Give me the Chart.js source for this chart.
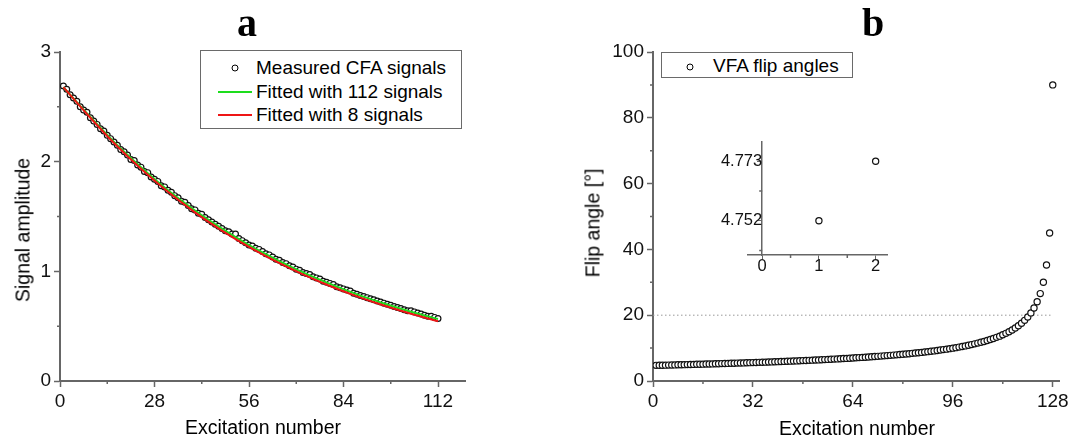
<!DOCTYPE html>
<html>
<head>
<meta charset="utf-8">
<script src="https://cdn.jsdelivr.net/npm/chart.js@4.4.1/dist/chart.umd.min.js"></script>
<style>
  body { margin: 0; width: 1083px; height: 443px; position: relative; background: #fff; overflow: hidden;
         font-family: "Liberation Sans", Arial, sans-serif; color: #000; }
  canvas { position: absolute; top: 0; }
  .lbl { position: absolute; white-space: nowrap; transform: translate(-50%, -50%); font-size: 19.5px; }
  .panel { position: absolute; font-family: "Liberation Serif", "Times New Roman", serif; font-weight: bold;
           font-size: 40px; transform: translate(-50%, -50%); }
  .legend { position: absolute; border: 1px solid #6a6a6a; box-sizing: border-box; background: #fff; }
  .row { position: absolute; font-size: 19px; white-space: nowrap; transform: translateY(-50%); }
  .dot { position: absolute; width: 5px; height: 5px; border: 1.2px solid #000; border-radius: 50%; transform: translate(-50%, -50%); }
  .seg { position: absolute; height: 2px; transform: translateY(-50%); }
</style>
</head>
<body>
<canvas id="chartA" width="540" height="443" style="left:0"></canvas>
<canvas id="chartB" width="543" height="443" style="left:540px"></canvas>
<canvas id="chartInset" width="220" height="160" style="left:690px; top:130px"></canvas>

<div class="panel" style="left:247px; top:22px">a</div>
<div class="panel" style="left:873px; top:22px">b</div>

<div class="lbl" style="left:263px; top:427px">Excitation number</div>
<div class="lbl" style="left:23px; top:230px; transform: translate(-50%, -50%) rotate(-90deg)">Signal amplitude</div>
<div class="lbl" style="left:857px; top:428px">Excitation number</div>
<div class="lbl" style="left:593px; top:223px; transform: translate(-50%, -50%) rotate(-90deg)">Flip angle [°]</div>

<div class="legend" style="left:200px; top:50px; width:262px; height:79px">
  <div class="dot" style="left:34px; top:17px"></div>
  <div class="row" style="left:55px; top:17px">Measured CFA signals</div>
  <div class="seg" style="left:17px; top:41px; width:34px; background:#1ddd1d"></div>
  <div class="row" style="left:55px; top:41px">Fitted with 112 signals</div>
  <div class="seg" style="left:17px; top:64px; width:34px; background:#ee1515"></div>
  <div class="row" style="left:55px; top:64px">Fitted with 8 signals</div>
</div>

<div class="legend" style="left:661px; top:52px; width:192px; height:26px">
  <div class="dot" style="left:28px; top:14px"></div>
  <div class="row" style="left:51px; top:13px">VFA flip angles</div>
</div>

<script>
// panel a: measured CFA signal amplitudes, excitation 1..112
const measuredCFA = [
  2.69, 2.66, 2.61, 2.58, 2.55, 2.50, 2.47, 2.45, 2.40, 2.37,
  2.34, 2.30, 2.28, 2.24, 2.21, 2.18, 2.15, 2.11, 2.09, 2.06,
  2.02, 2.01, 1.97, 1.95, 1.91, 1.90, 1.86, 1.84, 1.82, 1.78,
  1.77, 1.74, 1.72, 1.69, 1.67, 1.64, 1.63, 1.60, 1.57, 1.56,
  1.53, 1.52, 1.49, 1.47, 1.45, 1.43, 1.41, 1.39, 1.37, 1.36,
  1.34, 1.34, 1.30, 1.28, 1.26, 1.24, 1.23, 1.21, 1.20, 1.18,
  1.16, 1.15, 1.13, 1.11, 1.10, 1.08, 1.07, 1.05, 1.04, 1.02,
  1.01, 0.99, 0.98, 0.97, 0.95, 0.94, 0.93, 0.91, 0.90, 0.89,
  0.88, 0.86, 0.85, 0.84, 0.83, 0.82, 0.80, 0.79, 0.78, 0.77,
  0.76, 0.75, 0.74, 0.73, 0.72, 0.71, 0.70, 0.69, 0.68, 0.67,
  0.66, 0.65, 0.64, 0.64, 0.63, 0.62, 0.61, 0.60, 0.59, 0.59,
  0.58, 0.57
];
const cfaExcitations = Array.from({ length: measuredCFA.length }, (_, i) => i + 1);

// fitted curves, read at a few excitations
const fitExcitations = [1, 8, 16, 24, 32, 40, 48, 56, 64, 72, 80, 88, 96, 104, 112];
const fit112 = [2.68, 2.44, 2.18, 1.95, 1.74, 1.555, 1.39, 1.24, 1.11, 0.99, 0.885, 0.79, 0.707, 0.632, 0.565];
const fit8   = [2.68, 2.435, 2.17, 1.935, 1.725, 1.538, 1.372, 1.222, 1.09, 0.972, 0.866, 0.772, 0.688, 0.613, 0.545];

// panel b: VFA flip angles (degrees), excitation 1..128
const vfaAngles = [
  4.752, 4.773, 4.80, 4.82, 4.84, 4.87, 4.89, 4.92, 4.94, 4.97,
  4.99, 5.02, 5.04, 5.07, 5.10, 5.12, 5.15, 5.18, 5.20, 5.23,
  5.26, 5.29, 5.32, 5.35, 5.38, 5.41, 5.44, 5.47, 5.50, 5.53,
  5.57, 5.60, 5.63, 5.67, 5.70, 5.73, 5.77, 5.81, 5.84, 5.88,
  5.92, 5.95, 5.99, 6.03, 6.07, 6.11, 6.15, 6.20, 6.24, 6.28,
  6.33, 6.37, 6.42, 6.47, 6.51, 6.56, 6.61, 6.66, 6.71, 6.77,
  6.82, 6.87, 6.93, 6.99, 7.05, 7.11, 7.17, 7.23, 7.30, 7.36,
  7.43, 7.50, 7.57, 7.64, 7.72, 7.79, 7.87, 7.95, 8.04, 8.12,
  8.21, 8.30, 8.40, 8.49, 8.60, 8.70, 8.81, 8.92, 9.03, 9.15,
  9.28, 9.41, 9.54, 9.68, 9.83, 9.98, 10.14, 10.31, 10.49, 10.67,
  10.86, 11.07, 11.29, 11.52, 11.76, 12.02, 12.30, 12.60, 12.92, 13.26,
  13.63, 14.04, 14.48, 14.96, 15.50, 16.10, 16.78, 17.55, 18.43, 19.47,
  20.70, 22.21, 24.09, 26.57, 30.00, 35.26, 45.00, 90.00
];
const vfaExcitations = Array.from({ length: vfaAngles.length }, (_, i) => i + 1);
const thresholdAngle = 20;

// inset: first two flip angles
const insetExcitations = [1, 2];
const insetAngles = [4.752, 4.773];

// tick values
const aXTicks = [0, 28, 56, 84, 112], aXMinor = [14, 42, 70, 98];
const aYTicks = [0, 1, 2, 3],        aYMinor = [0.5, 1.5, 2.5];
const bXTicks = [0, 32, 64, 96, 128], bXMinor = [16, 48, 80, 112];
const bYTicks = [0, 20, 40, 60, 80, 100], bYMinor = [10, 30, 50, 70, 90];
const iXTicks = [0, 1, 2], iXMinor = [0.5, 1.5];
const iYTicks = [4.752, 4.773], iYMinor = [4.7415, 4.7625];

const AXIS = '#666';
const tickFont = { family: 'Liberation Sans', size: 19 };

function xy(xs, ys) { return xs.map((x, i) => ({ x: x, y: ys[i] })); }

// draws short minor ticks on the outside of the axes
const minorTicks = {
  id: 'minorTicks',
  afterDraw(chart, args, opts) {
    const ctx = chart.ctx;
    const sx = chart.scales.x, sy = chart.scales.y;
    const len = opts.length || 3;
    ctx.save();
    ctx.strokeStyle = AXIS;
    ctx.lineWidth = 1.5;
    ctx.beginPath();
    const bottom = chart.chartArea.bottom;
    (opts.x || []).forEach(v => {
      const px = sx.getPixelForValue(v);
      ctx.moveTo(px, bottom); ctx.lineTo(px, bottom + len);
    });
    const left = typeof sy.options.position === 'object'
      ? sx.getPixelForValue(sy.options.position.x) : chart.chartArea.left;
    (opts.y || []).forEach(v => {
      const py = sy.getPixelForValue(v);
      ctx.moveTo(left, py); ctx.lineTo(left - len, py);
    });
    ctx.stroke();
    ctx.restore();
  }
};

function axis(min, max, majors, extra) {
  return Object.assign({
    type: 'linear', min: min, max: max,
    afterBuildTicks: s => { s.ticks = majors.map(v => ({ value: v })); },
    ticks: { font: tickFont, color: '#111', padding: 3, maxRotation: 0, autoSkip: false },
    grid: { drawOnChartArea: false, drawTicks: true, tickLength: 6, tickColor: AXIS, tickWidth: 1.5 },
    border: { display: true, color: AXIS, width: 2 }
  }, extra);
}

const baseOpts = {
  responsive: false, animation: false, events: [],
  plugins: { legend: { display: false }, tooltip: { enabled: false } }
};

new Chart(document.getElementById('chartA'), {
  type: 'scatter',
  data: {
    datasets: [
      { label: 'Fitted with 8 signals', data: xy(fitExcitations, fit8), showLine: true,
        borderColor: '#ee1515', borderWidth: 2, pointRadius: 0, cubicInterpolationMode: 'monotone', order: 1 },
      { label: 'Fitted with 112 signals', data: xy(fitExcitations, fit112), showLine: true,
        borderColor: '#1ddd1d', borderWidth: 2, pointRadius: 0, cubicInterpolationMode: 'monotone', order: 2 },
      { label: 'Measured CFA signals', data: xy(cfaExcitations, measuredCFA),
        pointRadius: 2.9, borderWidth: 1.2, borderColor: '#111', backgroundColor: '#fff', order: 3 }
    ]
  },
  options: Object.assign({}, baseOpts, {
    layout: { padding: { left: 0, top: 52, right: 75, bottom: 0 } },
    plugins: Object.assign({}, baseOpts.plugins, { minorTicks: { x: aXMinor, y: aYMinor, length: 3 } }),
    scales: {
      x: axis(0, 120, aXTicks, { afterFit: s => { s.height = 62; } }),
      y: axis(0, 3, aYTicks, { afterFit: s => { s.width = 60; } })
    }
  }),
  plugins: [minorTicks]
});

new Chart(document.getElementById('chartB'), {
  type: 'scatter',
  data: {
    datasets: [
      { label: 'VFA flip angles', data: xy(vfaExcitations, vfaAngles),
        pointRadius: 3.1, borderWidth: 1.2, borderColor: '#111', backgroundColor: '#fff', order: 1 },
      { label: 'threshold', data: [{ x: 0, y: thresholdAngle }, { x: 128, y: thresholdAngle }], showLine: true,
        borderColor: '#999', borderWidth: 1, borderDash: [1.5, 2.5], pointRadius: 0, order: 2 }
    ]
  },
  options: Object.assign({}, baseOpts, {
    layout: { padding: { left: 0, top: 52, right: 24, bottom: 0 } },
    plugins: Object.assign({}, baseOpts.plugins, { minorTicks: { x: bXMinor, y: bYMinor, length: 3 } }),
    scales: {
      x: axis(0, 130, bXTicks, { afterFit: s => { s.height = 62; } }),
      y: axis(0, 100, bYTicks, { afterFit: s => { s.width = 113; } })
    }
  }),
  plugins: [minorTicks]
});

const insetFont = { family: 'Liberation Sans', size: 16.5 };
new Chart(document.getElementById('chartInset'), {
  type: 'scatter',
  data: {
    datasets: [
      { label: 'VFA flip angles', data: xy(insetExcitations, insetAngles),
        pointRadius: 3.1, borderWidth: 1.2, borderColor: '#111', backgroundColor: '#fff' }
    ]
  },
  options: Object.assign({}, baseOpts, {
    layout: { padding: { left: 58, top: 12, right: 23, bottom: 0 } },
    plugins: Object.assign({}, baseOpts.plugins, { minorTicks: { x: iXMinor, y: iYMinor, length: 3 } }),
    scales: {
      x: axis(-0.25, 2.2, iXTicks, {
        afterFit: s => { s.height = 35; },
        ticks: { font: insetFont, color: '#111', padding: -2, maxRotation: 0, autoSkip: false },
        grid: { drawOnChartArea: false, drawTicks: true, tickLength: 4, tickColor: AXIS, tickWidth: 1 },
        border: { display: true, color: AXIS, width: 1.5 }
      }),
      y: axis(4.7399, 4.7798, iYTicks, {
        position: { x: 0 },
        ticks: { font: insetFont, color: '#111', padding: 1, callback: v => v.toFixed(3) },
        grid: { drawOnChartArea: false, drawTicks: true, tickLength: 4, tickColor: AXIS, tickWidth: 1 },
        border: { display: true, color: AXIS, width: 1.5 }
      })
    }
  }),
  plugins: [minorTicks]
});
</script>
</body>
</html>
